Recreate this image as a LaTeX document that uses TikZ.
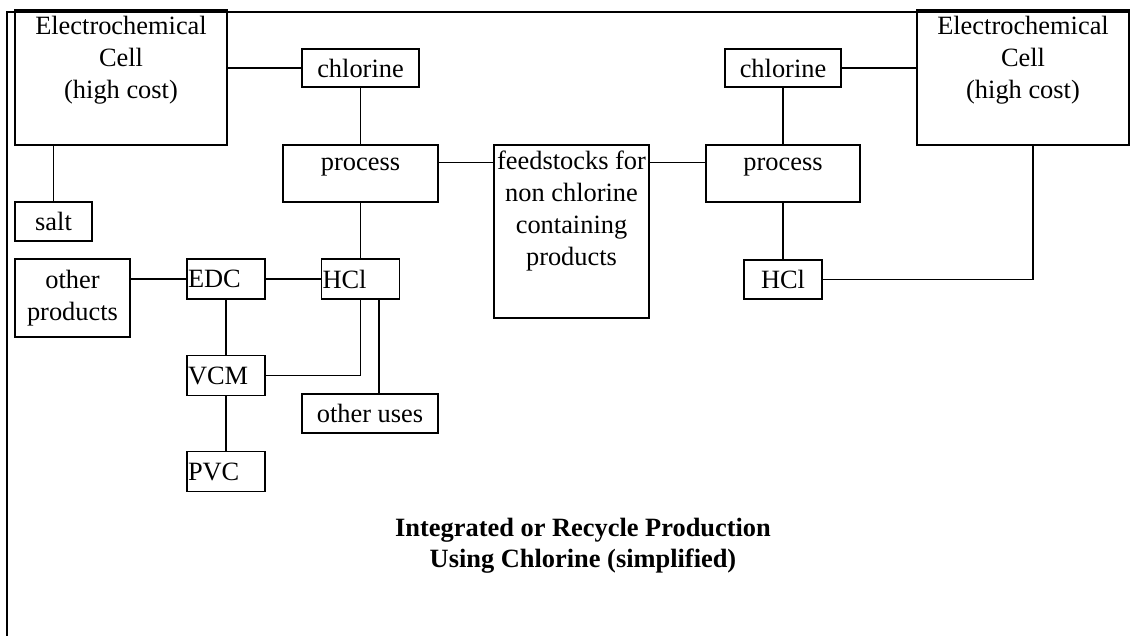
\documentclass[tikz,border=0pt]{standalone}
\usepackage{fontspec}
\setmainfont{Liberation Serif}

\tikzset{
	box/.style={draw, line width=1.4pt, inner sep=0pt},
	txt/.style={font=\fontsize{26.4}{32}\selectfont, align=center, inner sep=0pt},
	lbox/.style={box, txt, align=left, inner xsep=1pt, text width=76, minimum height=40},
	wire/.style={line width=1.4pt},
}

\begin{document}
\begin{tikzpicture}[x=1pt,y=-1pt]
	\useasboundingbox (0,0) rectangle (1131,636);

	%% frame
	\draw[line width=2pt] (7,636) -- (7,12) -- (1130,12);

	%% left side
	\node[box, minimum width=212, minimum height=135] (cellL) at (121,77.5) {};
	\node[txt, anchor=north] (cellLtext) at ([yshift=-3pt]cellL.north) {\strut Electrochemical\\Cell\\(high cost)};
	\node[box, txt, minimum width=117, minimum height=38] (chlorineL) at (360.5,68) {chlorine};
	\node[box, txt, minimum width=77, minimum height=39] (salt) at (53.5,221.5) {salt};
	\node[box, minimum width=155, minimum height=57] (processL) at (360.5,173.5) {};
	\node[txt, anchor=north] (processLtext) at ([yshift=-4pt]processL.north) {\strut process};

	%% middle
	\node[box, minimum width=155, minimum height=173] (feed) at (571.5,231.5) {};
	\node[txt, anchor=north] (feedtext) at ([yshift=-3pt]feed.north) {\strut feedstocks for\\non chlorine\\containing\\products};

	%% HCl branch
	\node[box, txt, minimum width=115, minimum height=78] (otherprod) at (72.5,298) {other\\products};
	\node[lbox] (EDC) at (226,279) {EDC};
	\node[lbox] (HClL) at (360.5,279) {HCl};
	\node[lbox] (VCM) at (226,375.5) {VCM};
	\node[lbox] (PVC) at (226,471.5) {PVC};
	\node[box, txt, minimum width=136, minimum height=39] (otheruses) at (370,413.5) {other uses};

	%% right side
	\node[box, minimum width=212, minimum height=135] (cellR) at (1023,77.5) {};
	\node[txt, anchor=north] (cellRtext) at ([yshift=-3pt]cellR.north) {\strut Electrochemical\\Cell\\(high cost)};
	\node[box, txt, minimum width=116, minimum height=38] (chlorineR) at (783,68) {chlorine};
	\node[box, minimum width=154, minimum height=57] (processR) at (783,173.5) {};
	\node[txt, anchor=north] (processRtext) at ([yshift=-4pt]processR.north) {\strut process};
	\node[box, txt, minimum width=78, minimum height=39] (HClR) at (783,279.5) {HCl};

	%% title
	\node[txt, font=\fontsize{26.4}{31}\selectfont\bfseries, anchor=north] (title) at (583,515) {\strut Integrated or Recycle Production\\Using Chlorine (simplified)};

	%% connections
	\draw[wire] (chlorineL.west) -- (chlorineL.west -| cellL.east);
	\draw[wire] (salt.north) -- (salt.north |- cellL.south);
	\draw[wire] (chlorineL.south) -- (processL.north);
	\draw[wire] ([yshift=-18pt]processL.north east) -- ([yshift=-18pt]processL.north east -| feed.west);
	\draw[wire] ([yshift=-18pt]processR.north west) -- ([yshift=-18pt]processR.north west -| feed.east);
	\draw[wire] (processL.south) -- (HClL.north);
	\draw[wire] (EDC.west) -- (EDC.west -| otherprod.east);
	\draw[wire] (EDC.east) -- (HClL.west);
	\draw[wire] (EDC.south) -- (VCM.north);
	\draw[wire] (VCM.south) -- (PVC.north);
	\draw[wire] (HClL.south) |- (VCM.east);
	\draw[wire] ([xshift=18.5pt]HClL.south) -- ([xshift=18.5pt]HClL.south |- otheruses.north);
	\draw[wire] (chlorineR.east) -- (chlorineR.east -| cellR.west);
	\draw[wire] (chlorineR.south) -- (processR.north);
	\draw[wire] (processR.south) -- (HClR.north);
	\draw[wire] (HClR.east) -| ([xshift=10pt]cellR.south);
\end{tikzpicture}
\end{document}
